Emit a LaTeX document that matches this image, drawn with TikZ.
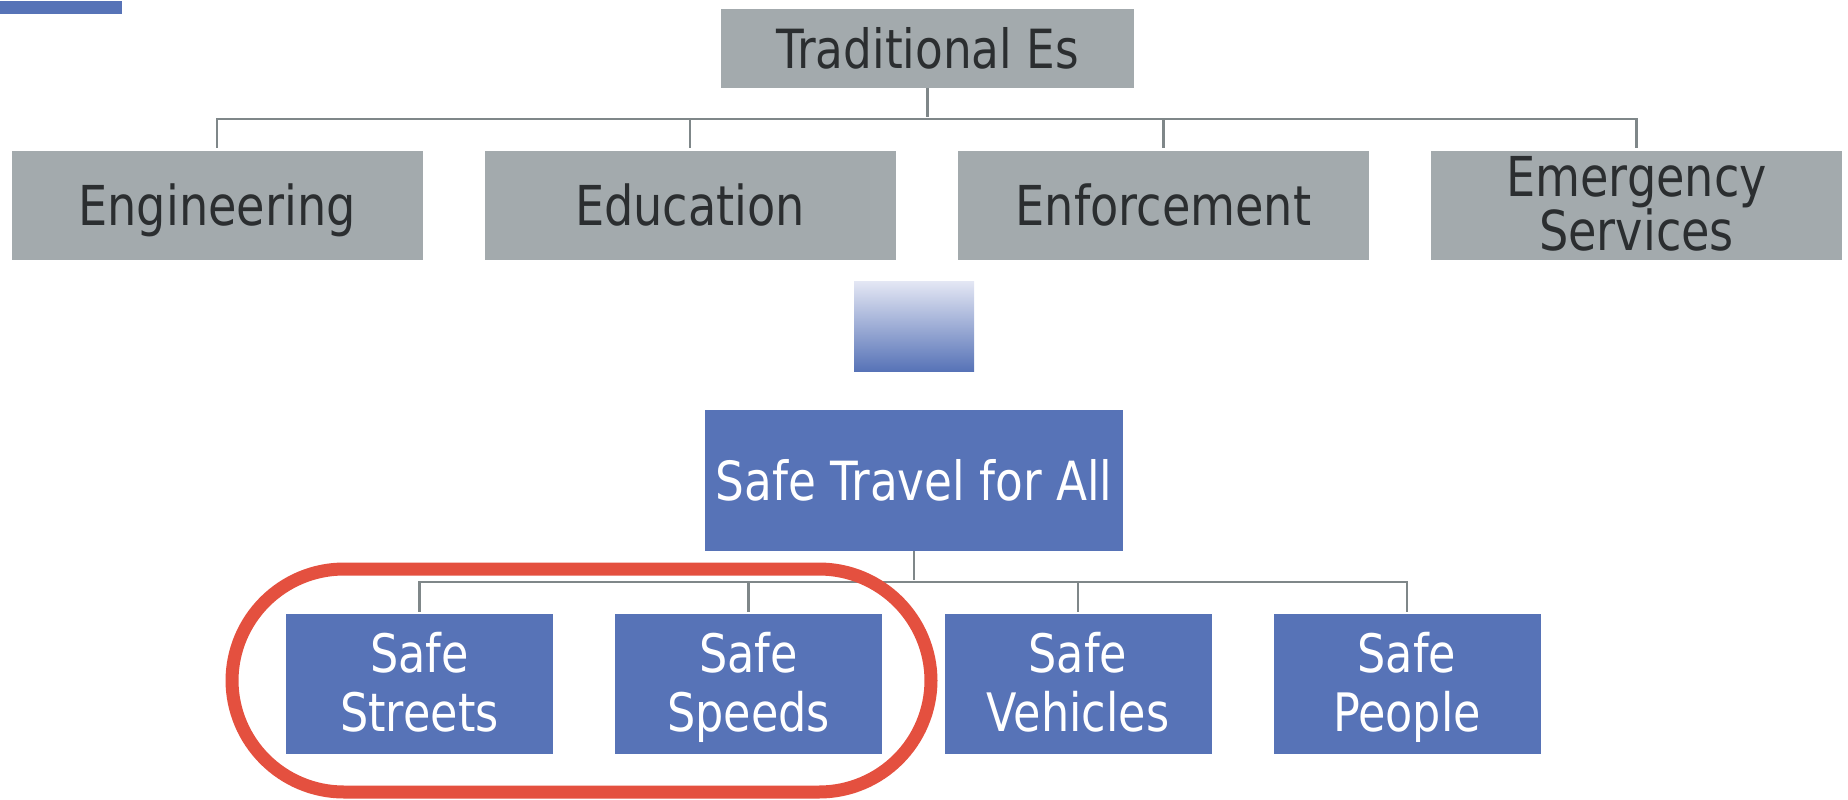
\documentclass[tikz,border=0pt]{standalone}
\usepackage{fontspec}
\setmainfont{DejaVu Sans}
\newfontfamily\boxfont[FakeStretch=0.84]{DejaVu Sans}
\usetikzlibrary{positioning}
\definecolor{esgray}{HTML}{A3AAAD}
\definecolor{estext}{HTML}{2B2E30}
\definecolor{stblue}{HTML}{5773B7}
\definecolor{stpale}{HTML}{E4E7F4}
\definecolor{linkgray}{HTML}{7F8789}
\definecolor{ringred}{HTML}{E4503F}
\begin{document}
\begin{tikzpicture}[x=0.5pt,y=-0.5pt,
		captop/.style={execute at begin node={\rule{0pt}{#1}}},
		every node/.style={captop=0.98em, text depth=6.8pt},
		twolines/.style={captop=0.80em, text depth=1.9pt},
		esbox/.style={fill=esgray, text=estext, inner sep=0pt, align=center,
			minimum width=205.5pt, minimum height=54.5pt,
			font={\boxfont\fontsize{27.5}{27}\selectfont}},
		travelbox/.style={fill=stblue, text=white, inner sep=0pt, align=center,
			minimum width=209pt, minimum height=70.5pt,
			font={\boxfont\fontsize{27}{29.5}\selectfont}},
		safebox/.style={fill=stblue, text=white, inner sep=0pt, align=center,
			minimum width=133.5pt, minimum height=70pt, twolines,
			font={\boxfont\fontsize{26.5}{29.5}\selectfont}},
		link/.style={draw=linkgray, line width=1.2pt, shorten >=1pt}]
		\useasboundingbox (0,0) rectangle (1848,799);
		\fill[stblue] (0,1) rectangle (122,14);
		\node[esbox, minimum width=206.5pt, minimum height=39.5pt,
			font={\boxfont\fontsize{27}{27}\selectfont}] (trad) at (927.5,48.5) {Traditional Es};
		\node[esbox] (eng) at (217,205) {Engineering};
		\node[esbox] (edu) at (690,205) {Education};
		\node[esbox] (enf) at (1163.5,205) {Enforcement};
		\node[esbox, twolines] (ems) at (1636.5,205) {Emergency\\Services};
		\coordinate (esbus) at (927.5,119);
		\draw[link] (trad.south) -- (esbus);
		\foreach \e in {eng,edu,enf,ems}
		{
			\draw[link] (esbus) -| (\e.north);
		}
		\node[shade, top color=stpale, bottom color=stblue, inner sep=0pt,
			minimum width=60pt, minimum height=45pt] (shift) at (914,326) {};
		\node[travelbox] (travel) at (914,480.5) {Safe Travel for All};
		\node[safebox] (streets) at (419.5,684) {Safe\\Streets};
		\node[safebox] (speeds) at (748.5,684) {Safe\\Speeds};
		\node[safebox] (vehicles) at (1078,684) {Safe\\Vehicles};
		\node[safebox] (people) at (1407,684) {Safe\\People};
		\coordinate (safebus) at (914,582);
		\draw[link] (travel.south) -- (safebus);
		\foreach \s in {streets,speeds,vehicles,people}
		{
			\draw[link] (safebus) -| (\s.north);
		}
		\draw[ringred, line width=6.5pt, rounded corners=56pt] (232,569) rectangle (931,792);
		\end{tikzpicture}
\end{document}
